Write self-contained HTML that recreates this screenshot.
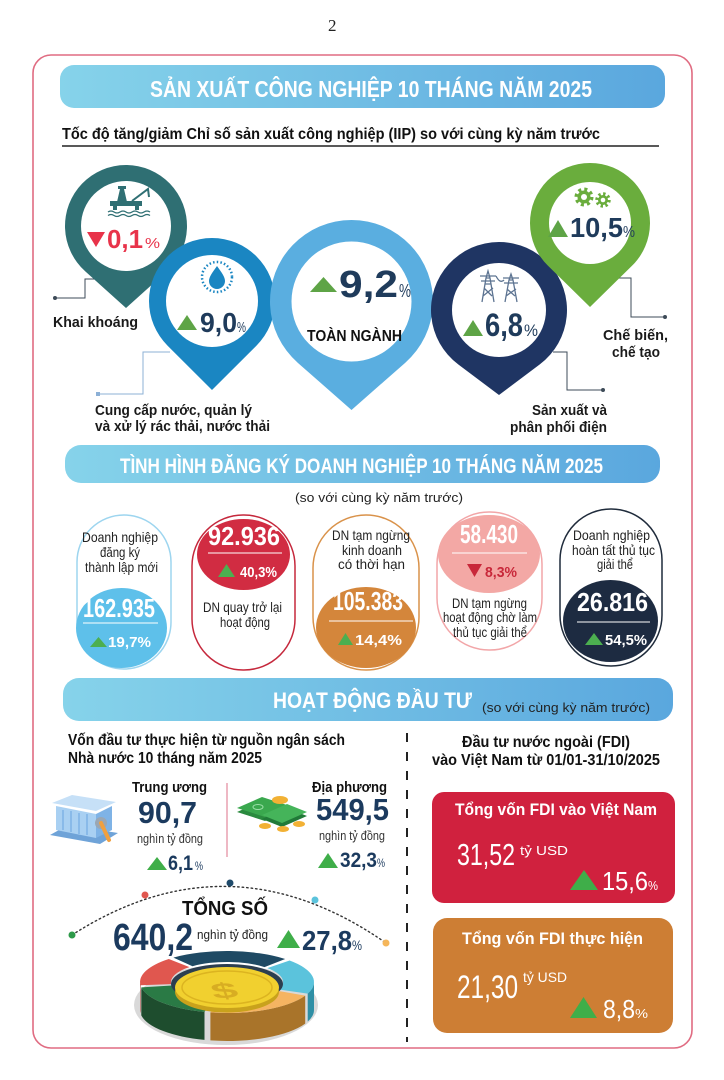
<!DOCTYPE html>
<html><head><meta charset="utf-8">
<style>html,body{margin:0;padding:0;background:#fff;width:724px;height:1080px;overflow:hidden}svg{display:block}</style>
</head><body>
<svg width="724" height="1080" viewBox="0 0 724 1080" xmlns="http://www.w3.org/2000/svg" font-family="'Liberation Sans','DejaVu Sans',sans-serif">
<defs>
<linearGradient id="hg" x1="0" y1="0" x2="1" y2="0"><stop offset="0" stop-color="#86d3ea"/><stop offset="1" stop-color="#5aa7de"/></linearGradient>
</defs>
<rect width="724" height="1080" fill="#fff"/>
<text x="328" y="31" font-family="'Liberation Serif',serif" font-size="17" fill="#222">2</text>
<rect x="33" y="55" width="659" height="993" rx="18" fill="none" stroke="#e06c82" stroke-width="1.6"/>

<!-- Header 1 -->
<rect x="60" y="65" width="605" height="43" rx="14" fill="url(#hg)"/>
<text x="150" y="97" font-size="23" font-weight="bold" fill="#fff" textLength="442" lengthAdjust="spacingAndGlyphs">SẢN XUẤT CÔNG NGHIỆP 10 THÁNG NĂM 2025</text>
<text x="62" y="139" font-size="16" font-weight="bold" fill="#111" textLength="538" lengthAdjust="spacingAndGlyphs">Tốc độ tăng/giảm Chỉ số sản xuất công nghiệp (IIP) so với cùng kỳ năm trước</text>
<path d="M62,146 H659" stroke="#222" stroke-width="1.5"/>

<!-- connectors -->
<g fill="none" stroke-width="1">
<path d="M55,298 H85 V279 H103" stroke="#3d4b58"/>
<path d="M98,394 H143 V352 H170" stroke="#8cb0d6"/>
<path d="M553,352 H567 V390 H603" stroke="#3d4b58"/>
<path d="M608,278 H631 V317 H665" stroke="#3d4b58"/>
</g>
<circle cx="55" cy="298" r="2" fill="#3d4b58"/>
<rect x="96" y="392" width="4" height="4" fill="#8cb0d6"/>
<circle cx="603" cy="390" r="2" fill="#3d4b58"/>
<circle cx="608" cy="278" r="2" fill="#3d4b58"/>
<circle cx="665" cy="317" r="2" fill="#3d4b58"/>

<!-- Pins -->
<path d="M126,308 L166.7,271.4 A61,61 0 1 0 85.3,271.4 Z" fill="#2f6f73"/>
<circle cx="126" cy="226" r="45" fill="#fff"/>
<path d="M212,390 L256.5,345.6 A63,63 0 1 0 167.5,345.6 Z" fill="#1a86c2"/>
<circle cx="212" cy="301" r="46" fill="#fff"/>
<path d="M351.5,410 L405.3,362.7 A81.5,81.5 0 1 0 297.7,362.7 Z" fill="#5aaee0"/>
<circle cx="351.5" cy="301.5" r="60" fill="#fff"/>
<path d="M499,395 L539.8,364.4 A68,68 0 1 0 458.2,364.4 Z" fill="#1f3563"/>
<circle cx="499" cy="310" r="47" fill="#fff"/>
<path d="M590,307 L632,265.8 A60,60 0 1 0 548,265.8 Z" fill="#6aad3d"/>
<circle cx="590" cy="223" r="41" fill="#fff"/>

<!-- pin icons -->
<g fill="#2f6f73">
<path d="M117,202 L120,189 L124,189 L127,202 Z"/>
<rect x="118" y="186" width="8" height="3"/>
<rect x="110" y="201" width="32" height="5"/>
<rect x="113" y="206" width="4" height="4"/>
<rect x="135" y="206" width="4" height="4"/>
</g>
<path d="M132,201 L148,189 L149,197" stroke="#2f6f73" stroke-width="2" fill="none"/>
<path d="M108,212 q3,-2 6,0 t6,0 t6,0 t6,0 t6,0 t6,0 t6,0 M108,215.5 q3,-2 6,0 t6,0 t6,0 t6,0 t6,0 t6,0 t6,0" stroke="#2f6f73" stroke-width="1.3" fill="none"/>

<circle cx="217" cy="277" r="15" fill="none" stroke="#1a86c2" stroke-width="2.5" stroke-dasharray="1.5 2.2"/>
<path d="M217,266 C212,273 209,277 209,281 A8,8 0 0 0 225,281 C225,277 222,273 217,266 Z" fill="#1a86c2"/>

<g stroke="#5c7391" stroke-width="1.3" fill="none">
<path d="M482,302 L486,278 L490,278 L494,302 M480,276 H496 M481,281 H495 M486,278 L488,271 L490,278 M483,296 L493,288 M484,288 L492,296 M485,284 L491,284"/>
<path d="M505,302 L509,280 L513,280 L517,302 M503,278 H519 M504,283 H518 M509,280 L511,274 L513,280 M506,296 L516,289 M507,289 L515,296"/>
<path d="M496,276 Q500,284 504,280"/>
</g>

<g fill="#6aad3d">
<circle cx="584" cy="197" r="6.5"/>
<circle cx="603" cy="200" r="5"/>
</g>
<circle cx="584" cy="197" r="7.5" fill="none" stroke="#6aad3d" stroke-width="4" stroke-dasharray="2.9 3"/>
<circle cx="603" cy="200" r="6" fill="none" stroke="#6aad3d" stroke-width="3.5" stroke-dasharray="2.3 2.4"/>
<circle cx="584" cy="197" r="3" fill="#fff"/>
<circle cx="603" cy="200" r="2.3" fill="#fff"/>

<!-- pin values -->
<polygon points="87,232 105,232 96,247" fill="#e8334a"/>
<text x="107" y="248" font-size="26" font-weight="bold" fill="#e8334a" textLength="36" lengthAdjust="spacingAndGlyphs">0,1</text>
<text x="145" y="248" font-size="15" fill="#e8334a" textLength="15" lengthAdjust="spacingAndGlyphs">%</text>

<polygon points="177,330 197,330 187,315" fill="#5ea446"/>
<text x="200" y="332" font-size="28" font-weight="bold" fill="#1f3b5b" textLength="37" lengthAdjust="spacingAndGlyphs">9,0</text>
<text x="237" y="332" font-size="15" fill="#1f3b5b" textLength="9" lengthAdjust="spacingAndGlyphs">%</text>

<polygon points="310,292 337,292 323.5,277" fill="#5ea446"/>
<text x="339" y="297" font-size="38" font-weight="bold" fill="#1f3b5b" textLength="59" lengthAdjust="spacingAndGlyphs">9,2</text>
<text x="399" y="297" font-size="18" fill="#1f3b5b" textLength="12" lengthAdjust="spacingAndGlyphs">%</text>
<text x="307" y="341" font-size="16" font-weight="bold" fill="#111" textLength="95" lengthAdjust="spacingAndGlyphs">TOÀN NGÀNH</text>

<polygon points="463,336 483,336 473,320" fill="#5ea446"/>
<text x="485" y="336" font-size="32" font-weight="bold" fill="#1f3b5b" textLength="38" lengthAdjust="spacingAndGlyphs">6,8</text>
<text x="524" y="336" font-size="17" fill="#1f3b5b" textLength="14" lengthAdjust="spacingAndGlyphs">%</text>

<polygon points="548,237 568,237 558,220" fill="#5ea446"/>
<text x="570" y="237" font-size="28" font-weight="bold" fill="#1f3b5b" textLength="53" lengthAdjust="spacingAndGlyphs">10,5</text>
<text x="623" y="237" font-size="16" fill="#1f3b5b" textLength="12" lengthAdjust="spacingAndGlyphs">%</text>

<!-- pin labels -->
<g font-size="15" font-weight="bold" fill="#1a1a1a">
<text x="53" y="327" textLength="85" lengthAdjust="spacingAndGlyphs">Khai khoáng</text>
<text x="95" y="415" textLength="157" lengthAdjust="spacingAndGlyphs">Cung cấp nước, quản lý</text>
<text x="95" y="431" textLength="175" lengthAdjust="spacingAndGlyphs">và xử lý rác thải, nước thải</text>
<text x="532" y="415" textLength="75" lengthAdjust="spacingAndGlyphs">Sản xuất và</text>
<text x="510" y="432" textLength="97" lengthAdjust="spacingAndGlyphs">phân phối điện</text>
<text x="603" y="340" textLength="65" lengthAdjust="spacingAndGlyphs">Chế biến,</text>
<text x="612" y="357" textLength="48" lengthAdjust="spacingAndGlyphs">chế tạo</text>
</g>

<!-- Header 2 -->
<rect x="65" y="445" width="595" height="38" rx="16" fill="url(#hg)"/>
<text x="120" y="473" font-size="21" font-weight="bold" fill="#fff" textLength="483" lengthAdjust="spacingAndGlyphs">TÌNH HÌNH ĐĂNG KÝ DOANH NGHIỆP 10 THÁNG  NĂM 2025</text>
<text x="295" y="502" font-size="13" fill="#222" textLength="168" lengthAdjust="spacingAndGlyphs">(so với cùng kỳ năm trước)</text>

<!-- cards -->
<g fill="none" stroke-width="1.5">
<rect x="77" y="515" width="94" height="154" rx="47" stroke="#9dd5ef"/>
<rect x="192" y="515" width="103" height="155" rx="51" stroke="#c5283c"/>
<rect x="313" y="515" width="106" height="155" rx="53" stroke="#d9924a"/>
<rect x="437" y="512" width="105" height="138" rx="52" stroke="#f2a6a8"/>
<rect x="560" y="509" width="102" height="157" rx="51" stroke="#1f2b3b"/>
</g>
<ellipse cx="121.5" cy="628" rx="45.5" ry="40" fill="#5ec0ea"/>
<ellipse cx="243.5" cy="554.5" rx="46.5" ry="35.5" fill="#d12c42"/>
<ellipse cx="366" cy="627.5" rx="50" ry="40.5" fill="#d4863b"/>
<ellipse cx="489" cy="554" rx="51" ry="39" fill="#f3a8a5"/>
<ellipse cx="610.5" cy="621" rx="47.5" ry="41" fill="#1d2b41"/>

<g font-size="14" fill="#222">
<text x="82" y="542" textLength="76" lengthAdjust="spacingAndGlyphs">Doanh nghiệp</text>
<text x="100" y="557" textLength="40" lengthAdjust="spacingAndGlyphs">đăng ký</text>
<text x="85" y="572" textLength="73" lengthAdjust="spacingAndGlyphs">thành lập mới</text>
<text x="203" y="612" textLength="79" lengthAdjust="spacingAndGlyphs">DN quay trở lại</text>
<text x="220" y="627" textLength="50" lengthAdjust="spacingAndGlyphs">hoạt động</text>
<text x="332" y="540" textLength="78" lengthAdjust="spacingAndGlyphs">DN tạm ngừng</text>
<text x="342" y="555" textLength="60" lengthAdjust="spacingAndGlyphs">kinh doanh</text>
<text x="338" y="569" textLength="67" lengthAdjust="spacingAndGlyphs">có thời hạn</text>
<text x="452" y="608" textLength="75" lengthAdjust="spacingAndGlyphs">DN tạm ngừng</text>
<text x="443" y="622" textLength="94" lengthAdjust="spacingAndGlyphs">hoạt động chờ làm</text>
<text x="453" y="637" textLength="74" lengthAdjust="spacingAndGlyphs">thủ tục giải thể</text>
<text x="573" y="540" textLength="77" lengthAdjust="spacingAndGlyphs">Doanh nghiệp</text>
<text x="572" y="555" textLength="83" lengthAdjust="spacingAndGlyphs">hoàn tất thủ tục</text>
<text x="597" y="569" textLength="36" lengthAdjust="spacingAndGlyphs">giải thể</text>
</g>

<g font-size="26" font-weight="bold" fill="#fff">
<text x="83" y="617" textLength="72" lengthAdjust="spacingAndGlyphs">162.935</text>
<text x="208" y="545" textLength="72" lengthAdjust="spacingAndGlyphs">92.936</text>
<text x="333" y="610" textLength="70" lengthAdjust="spacingAndGlyphs">105.383</text>
<text x="460" y="543" textLength="58" lengthAdjust="spacingAndGlyphs">58.430</text>
<text x="577" y="611" textLength="71" lengthAdjust="spacingAndGlyphs">26.816</text>
</g>
<g stroke="#fff" stroke-width="1">
<path d="M83,623 H158 M208,553 H282 M329,621 H413 M452,553 H527 M577,622 H650"/>
</g>
<g fill="#4caf50">
<polygon points="90,647 107,647 98.5,637"/>
<polygon points="218,577 235,577 226.5,564"/>
<polygon points="338,645 353,645 345.5,633"/>
<polygon points="585,645 603,645 594,633"/>
</g>
<polygon points="467,564 482,564 474.5,577" fill="#c8283a"/>
<g font-size="15" font-weight="bold" fill="#fff">
<text x="108" y="647" textLength="43" lengthAdjust="spacingAndGlyphs">19,7%</text>
<text x="240" y="577" textLength="37" lengthAdjust="spacingAndGlyphs">40,3%</text>
<text x="355" y="645" textLength="47" lengthAdjust="spacingAndGlyphs">14,4%</text>
<text x="485" y="577" textLength="32" lengthAdjust="spacingAndGlyphs" fill="#c8283a">8,3%</text>
<text x="605" y="645" textLength="42" lengthAdjust="spacingAndGlyphs">54,5%</text>
</g>

<!-- Header 3 -->
<rect x="63" y="678" width="610" height="43" rx="16" fill="url(#hg)"/>
<text x="273" y="708" font-size="22" font-weight="bold" fill="#fff" textLength="199" lengthAdjust="spacingAndGlyphs">HOẠT ĐỘNG ĐẦU TƯ</text>
<text x="482" y="712" font-size="13" fill="#222" textLength="168" lengthAdjust="spacingAndGlyphs">(so với cùng kỳ năm trước)</text>

<path d="M407,733 V1042" stroke="#222" stroke-width="2" stroke-dasharray="9 10"/>

<!-- Left investment -->
<g font-size="16" font-weight="bold" fill="#111">
<text x="68" y="745" textLength="277" lengthAdjust="spacingAndGlyphs">Vốn đầu tư thực hiện từ nguồn ngân sách</text>
<text x="68" y="763" textLength="194" lengthAdjust="spacingAndGlyphs">Nhà nước 10 tháng năm 2025</text>
</g>
<g font-size="15" font-weight="bold" fill="#111">
<text x="132" y="792" textLength="75" lengthAdjust="spacingAndGlyphs">Trung ương</text>
<text x="312" y="792" textLength="75" lengthAdjust="spacingAndGlyphs">Địa phương</text>
</g>
<g font-size="31" font-weight="bold" fill="#1b3a5e">
<text x="138" y="823" textLength="59" lengthAdjust="spacingAndGlyphs">90,7</text>
<text x="316" y="820" textLength="73" lengthAdjust="spacingAndGlyphs">549,5</text>
</g>
<g font-size="12.5" fill="#333">
<text x="137" y="843" textLength="66" lengthAdjust="spacingAndGlyphs">nghìn tỷ đồng</text>
<text x="319" y="840" textLength="66" lengthAdjust="spacingAndGlyphs">nghìn tỷ đồng</text>
</g>
<polygon points="147,870 167,870 157,857" fill="#3fae49"/>
<text x="168" y="870" font-size="21" font-weight="bold" fill="#1b3a5e" textLength="25" lengthAdjust="spacingAndGlyphs">6,1</text>
<text x="195" y="870" font-size="12" fill="#1b3a5e" textLength="8" lengthAdjust="spacingAndGlyphs">%</text>
<polygon points="318,868 338,868 328,853" fill="#3fae49"/>
<text x="340" y="867" font-size="21" font-weight="bold" fill="#1b3a5e" textLength="37" lengthAdjust="spacingAndGlyphs">32,3</text>
<text x="377" y="867" font-size="12" fill="#1b3a5e" textLength="8" lengthAdjust="spacingAndGlyphs">%</text>
<path d="M227,783 V857" stroke="#e9a0b0" stroke-width="1.5"/>

<!-- bank icon -->
<polygon points="50,835 100,844 118,833 68,825" fill="#6fa3d8"/>
<polygon points="56,806 96,814 96,838 56,830" fill="#a9d0f2"/>
<polygon points="96,814 112,806 112,830 96,838" fill="#7fb3e6"/>
<polygon points="52,803 96,811 116,802 72,795" fill="#c6e0f7"/>
<g stroke="#7fb3e6" stroke-width="1.5">
<path d="M63,810 V830 M71,811 V832 M79,813 V834 M87,814 V835"/>
</g>
<circle cx="101" cy="823" r="6" fill="#9aa7b4"/>
<path d="M101,823 L109,840" stroke="#f0a040" stroke-width="4" stroke-linecap="round"/>

<!-- money icon -->
<polygon points="237,812 262,801 290,810 265,821" fill="#2a8a3e"/>
<polygon points="237,808 262,797 290,806 265,817" fill="#3aa84e"/>
<polygon points="262,819 287,808 307,816 282,827" fill="#217a38"/>
<polygon points="262,815 287,804 307,812 282,823" fill="#45b45a"/>
<ellipse cx="258" cy="807" rx="5" ry="2.5" fill="none" stroke="#9be0a8" stroke-width="1"/>
<g fill="#f2b134">
<ellipse cx="280" cy="800" rx="8" ry="4"/>
<ellipse cx="265" cy="826" rx="6" ry="3"/>
<ellipse cx="283" cy="829" rx="6" ry="3"/>
<ellipse cx="299" cy="824" rx="6" ry="3"/>
</g>

<!-- Total arc -->
<path d="M72,935 Q229,834 386,943" fill="none" stroke="#333" stroke-width="1.4" stroke-dasharray="1.5 3" stroke-linecap="round"/>
<circle cx="72" cy="935" r="3.5" fill="#2e9a4a"/>
<circle cx="145" cy="895" r="3.5" fill="#e0574f"/>
<circle cx="230" cy="883" r="3.5" fill="#1f4a6a"/>
<circle cx="315" cy="900" r="3.5" fill="#5bc3dc"/>
<circle cx="386" cy="943" r="3.5" fill="#f5b65a"/>
<text x="182" y="915" font-size="20" font-weight="bold" fill="#111" textLength="86" lengthAdjust="spacingAndGlyphs">TỔNG SỐ</text>
<text x="113" y="950" font-size="38" font-weight="bold" fill="#1b3a5e" textLength="80" lengthAdjust="spacingAndGlyphs">640,2</text>
<text x="197" y="939" font-size="13" fill="#222" textLength="71" lengthAdjust="spacingAndGlyphs">nghìn tỷ đồng</text>
<polygon points="277,948 300,948 288.5,930" fill="#3fae49"/>
<text x="302" y="950" font-size="28" font-weight="bold" fill="#1b3a5e" textLength="50" lengthAdjust="spacingAndGlyphs">27,8</text>
<text x="352" y="950" font-size="14" fill="#1b3a5e" textLength="10" lengthAdjust="spacingAndGlyphs">%</text>

<!-- donut -->
<ellipse cx="226" cy="1005" rx="92" ry="40" fill="#d9d9d9"/>
<path d="M314,982 A87,31 0 0 1 307.7,993.6 L307.7,1021.6 A87,31 0 0 0 314,1010 Z" fill="#2f8fa5"/>
<path d="M305.2,995.6 A87,31 0 0 1 210.4,1012.4 L210.4,1040.4 A87,31 0 0 0 305.2,1023.6 Z" fill="#a9742a"/>
<path d="M204.5,1011.9 A87,31 0 0 1 141.3,987.4 L141.3,1015.4 A87,31 0 0 0 204.5,1039.9 Z" fill="#1e4d2e"/>
<path d="M140.5,985.2 A87,31 0 0 1 140,982 L140,1010 A87,31 0 0 0 140.5,1013.2 Z" fill="#a83a33"/>
<path d="M204.5,1011.9 A87,31 0 0 1 141.3,987.4 L171.8,985.5 A56,20 0 0 0 212.5,1001.3 Z" fill="#2a7a45"/>
<path d="M140.5,985.2 A87,31 0 0 1 168.8,959 L189.5,967.1 A56,20 0 0 0 171.3,984.1 Z" fill="#e0574f"/>
<path d="M173.4,957.6 A87,31 0 0 1 285.2,959 L264.5,967.1 A56,20 0 0 0 192.5,966.2 Z" fill="#1f4a64"/>
<path d="M289.6,960.5 A87,31 0 0 1 307.7,993.6 L278.9,989.5 A56,20 0 0 0 267.3,968.1 Z" fill="#5bc3dc"/>
<path d="M305.2,995.6 A87,31 0 0 1 210.4,1012.4 L216.3,1001.6 A56,20 0 0 0 277.3,990.8 Z" fill="#f5b462"/>
<ellipse cx="227" cy="984" rx="56" ry="20" fill="#2c3e50"/>
<ellipse cx="227" cy="992" rx="52" ry="20.5" fill="#c9a21c"/>
<ellipse cx="227" cy="987.5" rx="52" ry="20.5" fill="#f1d02f"/>
<ellipse cx="227" cy="987.5" rx="45" ry="16.5" fill="none" stroke="#dcb420" stroke-width="1.5"/>
<text transform="translate(227,998) scale(1.3,0.6) rotate(-10)" text-anchor="middle" font-size="36" font-weight="bold" fill="#d8ad22">$</text>

<!-- Right FDI -->
<g font-size="16" font-weight="bold" fill="#111">
<text x="462" y="747" textLength="168" lengthAdjust="spacingAndGlyphs">Đầu tư nước ngoài (FDI)</text>
<text x="432" y="765" textLength="228" lengthAdjust="spacingAndGlyphs">vào Việt Nam từ 01/01-31/10/2025</text>
</g>
<rect x="432" y="792" width="243" height="111" rx="12" fill="#d0213e"/>
<text x="455" y="815" font-size="16.5" font-weight="bold" fill="#fff" textLength="202" lengthAdjust="spacingAndGlyphs">Tổng vốn FDI vào Việt Nam</text>
<text x="457" y="865" font-size="31" fill="#fff" textLength="58" lengthAdjust="spacingAndGlyphs">31,52</text>
<text x="520" y="855" font-size="13" fill="#fff" textLength="48" lengthAdjust="spacingAndGlyphs">tỷ USD</text>
<polygon points="570,890 598,890 584,870" fill="#3fae49"/>
<text x="602" y="890" font-size="26" fill="#fff" textLength="46" lengthAdjust="spacingAndGlyphs">15,6</text>
<text x="648" y="890" font-size="13" fill="#fff" textLength="10" lengthAdjust="spacingAndGlyphs">%</text>

<rect x="433" y="918" width="240" height="115" rx="14" fill="#cd7e34"/>
<text x="462" y="944" font-size="16.5" font-weight="bold" fill="#fff" textLength="181" lengthAdjust="spacingAndGlyphs">Tổng vốn FDI thực hiện</text>
<text x="457" y="998" font-size="32" fill="#fff" textLength="61" lengthAdjust="spacingAndGlyphs">21,30</text>
<text x="523" y="982" font-size="14" fill="#fff" textLength="44" lengthAdjust="spacingAndGlyphs">tỷ USD</text>
<polygon points="570,1018 597,1018 583.5,997" fill="#3fae49"/>
<text x="603" y="1018" font-size="26" fill="#fff" textLength="32" lengthAdjust="spacingAndGlyphs">8,8</text>
<text x="635" y="1018" font-size="13" fill="#fff" textLength="13" lengthAdjust="spacingAndGlyphs">%</text>
</svg>
</body></html>
